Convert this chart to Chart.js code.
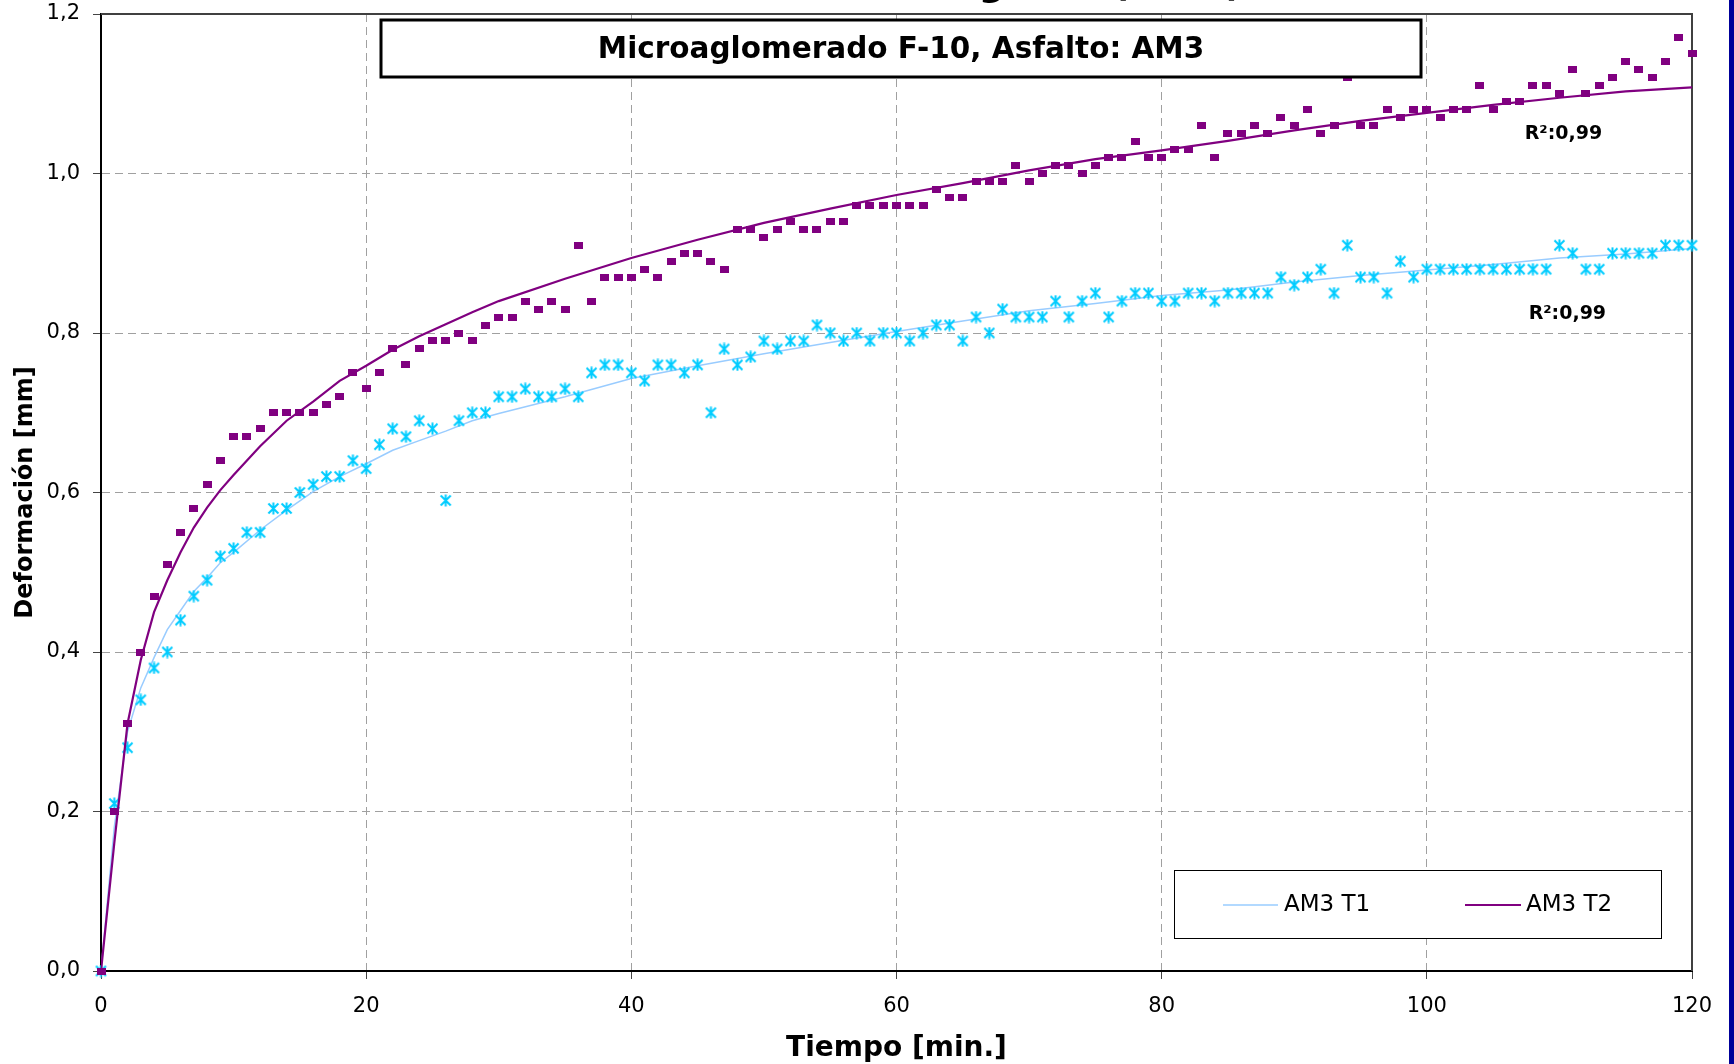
<!DOCTYPE html>
<html><head><meta charset="utf-8">
<script src="https://cdn.jsdelivr.net/npm/chart.js@4"></script>
<style>
html,body{margin:0;padding:0;background:#fff;overflow:hidden}
#wrap{position:relative;width:1734px;height:1064px}
#strip{position:absolute;left:1729px;top:0;width:5px;height:1064px;background:#000099}
canvas{display:block}
</style></head>
<body><div id="wrap"><canvas id="c" width="1734" height="1064" style="width:1734px;height:1064px"></canvas><div id="strip"></div></div>
<script>
// ---- data ----
const minutes = [0,1,2,3,4,5,6,7,8,9,10,11,12,13,14,15,16,17,18,19,20,21,22,23,24,25,26,27,28,29,30,31,32,33,34,35,36,37,38,39,40,41,42,43,44,45,46,47,48,49,50,51,52,53,54,55,56,57,58,59,60,61,62,63,64,65,66,67,68,69,70,71,72,73,74,75,76,77,78,79,80,81,82,83,84,85,86,87,88,89,90,91,92,93,94,95,96,97,98,99,100,101,102,103,104,105,106,107,108,109,110,111,112,113,114,115,116,117,118,119,120];
const am3T1 = [0,0.21,0.28,0.34,0.38,0.40,0.44,0.47,0.49,0.52,0.53,0.55,0.55,0.58,0.58,0.60,0.61,0.62,0.62,0.64,0.63,0.66,0.68,0.67,0.69,0.68,0.59,0.69,0.70,0.70,0.72,0.72,0.73,0.72,0.72,0.73,0.72,0.75,0.76,0.76,0.75,0.74,0.76,0.76,0.75,0.76,0.70,0.78,0.76,0.77,0.79,0.78,0.79,0.79,0.81,0.80,0.79,0.80,0.79,0.80,0.80,0.79,0.80,0.81,0.81,0.79,0.82,0.80,0.83,0.82,0.82,0.82,0.84,0.82,0.84,0.85,0.82,0.84,0.85,0.85,0.84,0.84,0.85,0.85,0.84,0.85,0.85,0.85,0.85,0.87,0.86,0.87,0.88,0.85,0.91,0.87,0.87,0.85,0.89,0.87,0.88,0.88,0.88,0.88,0.88,0.88,0.88,0.88,0.88,0.88,0.91,0.90,0.88,0.88,0.90,0.90,0.90,0.90,0.91,0.91,0.91];
const am3T2 = [0,0.20,0.31,0.40,0.47,0.51,0.55,0.58,0.61,0.64,0.67,0.67,0.68,0.70,0.70,0.70,0.70,0.71,0.72,0.75,0.73,0.75,0.78,0.76,0.78,0.79,0.79,0.80,0.79,0.81,0.82,0.82,0.84,0.83,0.84,0.83,0.91,0.84,0.87,0.87,0.87,0.88,0.87,0.89,0.90,0.90,0.89,0.88,0.93,0.93,0.92,0.93,0.94,0.93,0.93,0.94,0.94,0.96,0.96,0.96,0.96,0.96,0.96,0.98,0.97,0.97,0.99,0.99,0.99,1.01,0.99,1.00,1.01,1.01,1.00,1.01,1.02,1.02,1.04,1.02,1.02,1.03,1.03,1.06,1.02,1.05,1.05,1.06,1.05,1.07,1.06,1.08,1.05,1.06,1.12,1.06,1.06,1.08,1.07,1.08,1.08,1.07,1.08,1.08,1.11,1.08,1.09,1.09,1.11,1.11,1.10,1.13,1.10,1.11,1.12,1.14,1.13,1.12,1.14,1.17,1.15];
const trendMinutes = [0,1,2,3,4,5,6,7,8,9,10,12,14,16,18,20,22,24,26,28,30,35,40,45,50,55,60,65,70,75,80,85,90,95,100,105,110,115,120];
const trendT1 = [0,0.18,0.30,0.355,0.393,0.428,0.452,0.476,0.493,0.512,0.525,0.553,0.578,0.601,0.62,0.636,0.653,0.665,0.677,0.69,0.699,0.72,0.743,0.759,0.774,0.788,0.802,0.815,0.828,0.837,0.847,0.854,0.864,0.872,0.879,0.886,0.894,0.899,0.906];
const trendT2 = [0,0.16,0.31,0.39,0.45,0.49,0.525,0.556,0.581,0.603,0.622,0.658,0.69,0.714,0.74,0.759,0.779,0.796,0.811,0.826,0.84,0.868,0.894,0.917,0.938,0.956,0.973,0.988,1.004,1.018,1.029,1.041,1.054,1.066,1.076,1.086,1.095,1.103,1.108];
const seriesNames = ['AM3 T1','AM3 T2'];
const r2Labels = ['R\u00B2:0,99','R\u00B2:0,99'];
const chartTitle = 'Wheel Tracking Test (60\u00BAC)';
const boxTitle = 'Microaglomerado F-10, Asfalto: AM3';
const xTitle = 'Tiempo [min.]';
const yTitle = 'Deformación [mm]';

const FONT = 'DejaVu Sans';
const PURPLE = '#800080', CYAN = '#00CCFF', LIGHTBLUE = '#99CCFF';

// asterisk marker
const star = document.createElement('canvas');
star.width = 13; star.height = 13;
(function(){const c=star.getContext('2d');c.strokeStyle=CYAN;c.lineWidth=2;c.beginPath();
c.moveTo(1.5,1.5);c.lineTo(11.5,11.5);c.moveTo(11.5,1.5);c.lineTo(1.5,11.5);c.moveTo(6.5,0.5);c.lineTo(6.5,12.5);c.stroke();})();
// square marker (slightly wider than tall)
const sq = document.createElement('canvas');
sq.width = 9; sq.height = 7;
(function(){const c=sq.getContext('2d');c.fillStyle=PURPLE;c.fillRect(0,0,9,7);})();

const pts = (xs, ys) => xs.map((x, i) => ({x, y: ys[i]}));

const decor = {
  id: 'decor',
  beforeDraw(chart) {
    const ctx = chart.ctx;
    ctx.save(); ctx.fillStyle = '#fff'; ctx.fillRect(0,0,chart.width,chart.height); ctx.restore();
  },
  beforeDatasetsDraw(chart) {
    const {ctx, chartArea: a} = chart;
    ctx.save();
    ctx.strokeStyle = '#404040'; ctx.lineWidth = 2;
    ctx.beginPath(); ctx.moveTo(a.left, a.top); ctx.lineTo(a.right, a.top); ctx.lineTo(a.right, a.bottom); ctx.stroke();
    ctx.restore();
  },
  afterDatasetsDraw(chart) {
    const {ctx, scales: {x, y}} = chart;
    ctx.save();
    // cut-off main title
    ctx.fillStyle = '#000'; ctx.font = 'bold 36px "' + FONT + '"';
    ctx.textAlign = 'center'; ctx.textBaseline = 'alphabetic';
    ctx.fillText(chartTitle, 968, -4);
    // title box
    ctx.fillStyle = '#fff'; ctx.fillRect(381, 20, 1040, 57);
    ctx.strokeStyle = '#000'; ctx.lineWidth = 3; ctx.strokeRect(381, 20, 1040, 57);
    ctx.fillStyle = '#000'; ctx.font = 'bold 29.5px "' + FONT + '"';
    ctx.textBaseline = 'middle';
    ctx.fillText(boxTitle, 901, 50);
    // R2 labels
    ctx.font = 'bold 19px "' + FONT + '"';
    ctx.fillText(r2Labels[1], x.getPixelForValue(110.3), y.getPixelForValue(1.05));
    ctx.fillText(r2Labels[0], x.getPixelForValue(110.6), y.getPixelForValue(0.824));
    // legend
    ctx.fillStyle = '#fff'; ctx.fillRect(1174, 870, 487, 68);
    ctx.strokeStyle = '#000'; ctx.lineWidth = 1; ctx.strokeRect(1174.5, 870.5, 487, 68);
    ctx.lineWidth = 1.5; ctx.strokeStyle = LIGHTBLUE;
    ctx.beginPath(); ctx.moveTo(1223, 905); ctx.lineTo(1278, 905); ctx.stroke();
    ctx.lineWidth = 2; ctx.strokeStyle = PURPLE;
    ctx.beginPath(); ctx.moveTo(1465, 905); ctx.lineTo(1521, 905); ctx.stroke();
    ctx.fillStyle = '#000'; ctx.font = '23px "' + FONT + '"'; ctx.textAlign = 'left';
    ctx.fillText(seriesNames[0], 1284, 905);
    ctx.fillText(seriesNames[1], 1526, 905);
    ctx.restore();
  }
};

new Chart(document.getElementById('c'), {
  type: 'scatter',
  data: {
    datasets: [
      {label: seriesNames[1] + ' datos', data: pts(minutes, am3T2), order: 1, clip: false,
       pointStyle: sq, pointRadius: 5, showLine: false},
      {label: seriesNames[1], data: pts(trendMinutes, trendT2), order: 2, showLine: true,
       pointRadius: 0, borderColor: PURPLE, borderWidth: 2.2, tension: 0},
      {label: seriesNames[0] + ' datos', data: pts(minutes, am3T1), order: 3, clip: false,
       pointStyle: star, pointRadius: 6, showLine: false},
      {label: seriesNames[0], data: pts(trendMinutes, trendT1), order: 4, showLine: true,
       pointRadius: 0, borderColor: LIGHTBLUE, borderWidth: 1.5, tension: 0}
    ]
  },
  options: {
    responsive: false, animation: false, devicePixelRatio: 1,
    layout: {padding: {top: 14, right: 42, left: 0, bottom: 0}},
    plugins: {legend: {display: false}, tooltip: {enabled: false}},
    scales: {
      x: {
        type: 'linear', min: 0, max: 120,
        afterFit: s => { s.height = 93; s.paddingLeft = 0; s.paddingRight = 0; },
        ticks: {stepSize: 20, color: '#000', font: {family: FONT, size: 21}, padding: 15, maxRotation: 0},
        grid: {color: '#a0a0a0', lineWidth: 1, tickLength: 8, tickColor: '#444', tickWidth: 1},
        border: {display: true, color: '#000', width: 2, dash: [8, 5]},
        title: {display: true, text: xTitle, color: '#000', font: {family: FONT, size: 28, weight: 'bold', lineHeight: 1.0}, padding: {top: 0, bottom: 1}}
      },
      y: {
        type: 'linear', min: 0, max: 1.2,
        afterFit: s => { s.width = 101; s.paddingTop = 0; s.paddingBottom = 0; },
        ticks: {stepSize: 0.2, color: '#000', font: {family: FONT, size: 21}, padding: 13,
          callback: v => v.toFixed(1).replace('.', ',')},
        grid: {color: '#a0a0a0', lineWidth: 1, tickLength: 8, tickColor: '#444', tickWidth: 1},
        border: {display: true, color: '#000', width: 2, dash: [8, 5]},
        title: {display: true, text: yTitle, color: '#000', font: {family: FONT, size: 24, weight: 'bold'}, padding: {top: 11, bottom: 0}}
      }
    }
  },
  plugins: [decor]
});
</script>
</body></html>
